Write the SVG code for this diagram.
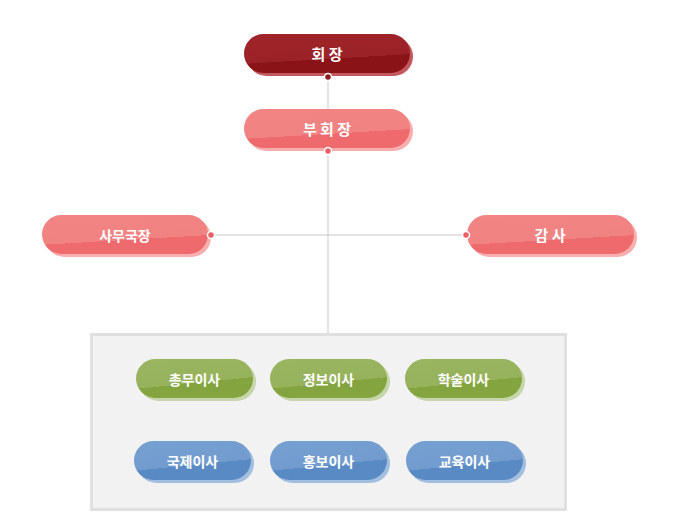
<svg xmlns="http://www.w3.org/2000/svg" width="682" height="523" viewBox="0 0 682 523">
<defs>
<linearGradient id="gRed" x1="0" y1="0" x2="0.25" y2="1"><stop offset="0" stop-color="#a0242a"/><stop offset="0.72" stop-color="#9a2227"/><stop offset="0.72" stop-color="#8a1318"/><stop offset="1" stop-color="#8a1318"/></linearGradient>
<linearGradient id="gPink" x1="0" y1="0" x2="0.25" y2="1"><stop offset="0" stop-color="#f28484"/><stop offset="0.72" stop-color="#f08282"/><stop offset="0.72" stop-color="#ee6a6d"/><stop offset="1" stop-color="#ee6a6d"/></linearGradient>
<linearGradient id="gGreen" x1="0" y1="0" x2="0.3" y2="1"><stop offset="0" stop-color="#9ab560"/><stop offset="0.7" stop-color="#96b25b"/><stop offset="0.7" stop-color="#83a43e"/><stop offset="1" stop-color="#83a43e"/></linearGradient>
<linearGradient id="gBlue" x1="0" y1="0" x2="0.3" y2="1"><stop offset="0" stop-color="#76a0d1"/><stop offset="0.7" stop-color="#729ccf"/><stop offset="0.7" stop-color="#5a8ac3"/><stop offset="1" stop-color="#5a8ac3"/></linearGradient>
</defs>
<style>
.t{font-family:"Noto Sans CJK KR","Noto Sans",sans-serif;font-weight:bold;font-size:14px;fill:#fff;text-anchor:middle;dominant-baseline:central}
.t.big{font-size:15px}
.ln{stroke:#c8c8c8;stroke-width:1;fill:none}
.dot{stroke:#fff;stroke-width:1.5}
</style>
<rect width="682" height="523" fill="#fff"/>
<g id="connectors">
<line class="ln" x1="328" y1="77" x2="328" y2="334"/>
<line class="ln" x1="211" y1="235" x2="466" y2="235"/>
</g>
<g id="board">
<rect x="91.5" y="334.5" width="474" height="175" fill="#f2f2f2" stroke="#e0e0e0" stroke-width="3"/>
</g>
<g id="n-chair">
<rect x="247" y="37" width="166" height="39" rx="19.5" fill="#c2575d"/>
<rect x="244" y="34" width="166" height="39" rx="19.5" fill="url(#gRed)"/>
<text class="t big" x="327" y="53.5">회 장</text>
<circle class="dot" cx="328" cy="77" r="3.5" fill="#8b1a1f"/>
</g>
<g id="n-vice">
<rect x="247" y="112" width="166" height="39" rx="19.5" fill="#f7aeae"/>
<rect x="244" y="109" width="166" height="39" rx="19.5" fill="url(#gPink)"/>
<text class="t big" x="327" y="128.5">부 회 장</text>
<circle class="dot" cx="328" cy="151" r="3.5" fill="#ea5f66"/>
</g>
<g id="n-secgen">
<rect x="45" y="218" width="166" height="39" rx="19.5" fill="#f7aeae"/>
<rect x="42" y="215" width="166" height="39" rx="19.5" fill="url(#gPink)"/>
<text class="t" x="125" y="234.5">사무국장</text>
<circle class="dot" cx="211" cy="235" r="3.5" fill="#ea5f66"/>
</g>
<g id="n-audit">
<rect x="470" y="218" width="167" height="39" rx="19.5" fill="#f7aeae"/>
<rect x="467" y="215" width="167" height="39" rx="19.5" fill="url(#gPink)"/>
<text class="t big" x="550" y="234.5">감 사</text>
<circle class="dot" cx="466" cy="235" r="3.5" fill="#ea5f66"/>
</g>
<g id="n-general">
<rect x="139" y="362" width="117" height="39" rx="19.5" fill="#c6d6aa"/>
<rect x="136" y="359" width="117" height="39" rx="19.5" fill="url(#gGreen)"/>
<text class="t" x="194.5" y="378.5">총무이사</text>
</g>
<g id="n-info">
<rect x="273" y="362" width="117" height="39" rx="19.5" fill="#c6d6aa"/>
<rect x="270" y="359" width="117" height="39" rx="19.5" fill="url(#gGreen)"/>
<text class="t" x="328.5" y="378.5">정보이사</text>
</g>
<g id="n-academic">
<rect x="408" y="362" width="117" height="39" rx="19.5" fill="#c6d6aa"/>
<rect x="405" y="359" width="117" height="39" rx="19.5" fill="url(#gGreen)"/>
<text class="t" x="463.5" y="378.5">학술이사</text>
</g>
<g id="n-intl">
<rect x="137" y="444" width="117" height="39" rx="19.5" fill="#a3bfe0"/>
<rect x="134" y="441" width="117" height="39" rx="19.5" fill="url(#gBlue)"/>
<text class="t" x="192.5" y="460.5">국제이사</text>
</g>
<g id="n-pr">
<rect x="273" y="444" width="117" height="39" rx="19.5" fill="#a3bfe0"/>
<rect x="270" y="441" width="117" height="39" rx="19.5" fill="url(#gBlue)"/>
<text class="t" x="328.5" y="460.5">홍보이사</text>
</g>
<g id="n-edu">
<rect x="409" y="444" width="117" height="39" rx="19.5" fill="#a3bfe0"/>
<rect x="406" y="441" width="117" height="39" rx="19.5" fill="url(#gBlue)"/>
<text class="t" x="464.5" y="460.5">교육이사</text>
</g>
</svg>
